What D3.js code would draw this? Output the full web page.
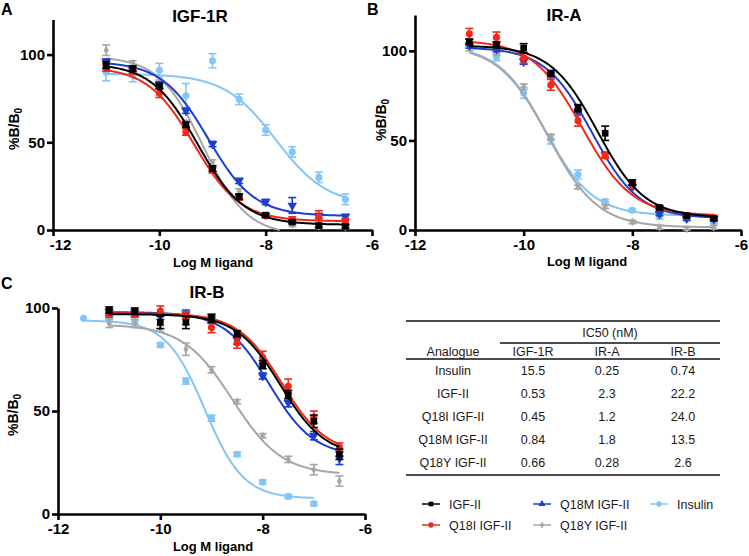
<!DOCTYPE html>
<html><head><meta charset="utf-8">
<script src="https://cdn.jsdelivr.net/npm/d3@7"></script>
<style>
body{margin:0;background:#fff}
svg{display:block;font-family:"Liberation Sans",Arial,sans-serif}
</style>
</head><body>
<svg id="chart" width="749" height="556"></svg>
<script>
// ---------------- DATA ----------------
const seriesNames = ["IGF-II", "Q18I IGF-II", "Q18M IGF-II", "Q18Y IGF-II", "Insulin"];
const seriesColors = ["#000000", "#ee2a1b", "#1d3fcf", "#a6a6a6", "#85c5f5"];
const xTicks = [-12, -10, -8, -6];
const yTicks = [0, 50, 100];

// log M concentrations
const xAB = [-11, -10.5, -10, -9.5, -9, -8.5, -8, -7.5, -7, -6.5];
const xC = [-11.5, -11, -10.5, -10, -9.5, -9, -8.5, -8, -7.5, -7, -6.5];

// Panel A: IGF-1R (%B/B0 mean, SEM)
const igf1rIGFII = [94, 92, 82, 60, 35, 19, 8.5, 4.5, 2.5, 2];
const igf1rQ18I = [92.5, 90.5, 78, 56, 34, 18.5, 8, 6, 7.5, 5];
const igf1rQ18M = [96, 91, 83, 68, 49, 28, 16, 14, 8, 7.5];
const igf1rQ18Y = [102.5, 95, 84, 61, 38.5, 22, 8, 3, 2, 1.5];
const igf1rInsulin = [90, 88.5, 91, 76.5, 96.5, 74.5, 57, 44.5, 30, 17.5];
const igf1rErrIGFII = [2, 1.5, 1.5, 1.5, 1.5, 1.5, 1, 1, 1, 1];
const igf1rErrQ18I = [2, 1.5, 2.5, 2, 1.5, 1.5, 1, 1.5, 3.5, 1.5];
const igf1rErrQ18M = [1.5, 1.5, 1.5, 1.5, 1.5, 1.5, 1.5, 4.5, 1.5, 1.5];
const igf1rErrQ18Y = [3, 1.5, 1.5, 1.5, 1.5, 1.5, 1, 1, 1, 1];
const igf1rErrInsulin = [5, 4, 4, 7, 4, 3, 3, 3, 3, 3];
// fit parameters [top, bottom, logIC50, hill]
const igf1rFits = [[95, 3, -9.28, 1.0], [93, 5, -9.35, 1.0], [96, 8, -9.08, 1.0], [99, -3, -9.18, 1.05], [89, 14, -7.81, 0.9]];

// Panel B: IR-A
const iraIGFII = [105, 103.5, 101.5, 87.5, 68, 54, 26.5, 12.5, 8, 6.5];
const iraQ18I = [109.5, 107.5, 96, 81, 61, 41.5, 25, 12.5, 8, 7];
const iraQ18M = [103, 101, 94, 86.5, 66, 42, 24, 9, 6.5, 6];
const iraQ18Y = [102, 99, 80, 52, 24, 13, 4.5, 1.5, 0.5, 1.5];
const iraInsulin = [104.5, 96.5, 76.5, 50.5, 31, 16, 11, 8, 6, 4.5];
const iraErrIGFII = [1.5, 1.5, 2.5, 1.5, 2, 4, 1.5, 1, 1, 1];
const iraErrQ18I = [3, 3, 3, 3, 3, 1.5, 1.5, 1, 1, 1];
const iraErrQ18M = [1.5, 1.5, 1.5, 1.5, 1.5, 1.5, 1, 1, 1, 1];
const iraErrQ18Y = [2, 1.5, 1.5, 1.5, 1, 1, 1, 1, 1, 1];
const iraErrInsulin = [2, 2, 3, 2.5, 2.5, 1, 1, 2, 1, 1];
const iraFits = [[103, 7, -8.64, 1.0], [106, 8, -8.92, 0.95], [102, 6.5, -8.74, 1.0], [103, 1.5, -9.55, 0.95], [103, 8, -9.6, 1.0]];

// Panel C: IR-B
const irbIGFII = [null, 99, 98.5, 93, 93, 95, 87.5, 72.5, 58, 45, 29];
const irbQ18I = [null, 97, 97, 98.5, 95, 90.5, 83, 76, 62, 47, 32.5];
const irbQ18M = [null, 98, 97.5, 96, 97, 94.5, 84.5, 67, 54, 38, 27];
const irbQ18Y = [null, 92.5, 92.5, 90, 80, 70, 54.5, 38, 26.5, 21.5, 16];
const irbInsulin = [95, 94.5, 93, 82, 64.5, 46.5, 29, 15.5, 8.5, 5, null];
const irbErrIGFII = [0, 1.5, 1.5, 3, 3, 2, 1.5, 2, 2, 3, 2.5];
const irbErrQ18I = [0, 1.5, 1.5, 2.5, 3, 2.5, 2.5, 3, 3.5, 3, 2];
const irbErrQ18M = [0, 1.5, 1.5, 1.5, 2, 2, 2, 1.5, 2, 2, 3];
const irbErrQ18Y = [0, 2, 2, 1.5, 3, 1.5, 1, 1, 1.5, 2.5, 2.5];
const irbErrInsulin = [0, 1, 1, 1, 1.5, 1.5, 1, 1, 1, 1, 0];
const irbFits = [[97, 28, -7.65, 1.0], [97.5, 29, -7.62, 1.0], [98, 28, -7.87, 1.0], [92, 19, -8.59, 0.9], [94, 7.5, -9.13, 1.15]];

// IC50 table
const tableColumns = ["Analogue", "IGF-1R", "IR-A", "IR-B"];
const tableRows = ["Insulin", "IGF-II", "Q18I IGF-II", "Q18M IGF-II", "Q18Y IGF-II"];
const ic50IGF1R = ["15.5", "0.53", "0.45", "0.84", "0.66"];
const ic50IRA = ["0.25", "2.3", "1.2", "1.8", "0.28"];
const ic50IRB = ["0.74", "22.2", "24.0", "13.5", "2.6"];

// ---------------- DRAW ----------------
const svg = d3.select("#chart");
const symbolFor = [d3.symbolSquare, d3.symbolCircle, d3.symbolTriangle, d3.symbolDiamond, d3.symbolCircle];
const symbolSize = [44, 40, 40, 22, 40];

function logistic(p, x) { return p[1] + (p[0] - p[1]) / (1 + Math.pow(10, (x - p[2]) * p[3])); }

function drawPanel(cfg) {
  const g = svg.append("g");
  const x = d3.scaleLinear().domain([-12, -6]).range(cfg.xRange);
  const y = d3.scaleLinear().domain(cfg.yDomain).range(cfg.yRange);

  const yAxis = g.append("g").attr("transform", `translate(${cfg.xRange[0]},0)`)
    .call(d3.axisLeft(y).tickValues(yTicks).tickSize(6).tickSizeOuter(0).tickPadding(2).tickFormat(d => String(d)));
  const xAxis = g.append("g").attr("transform", `translate(0,${cfg.yRange[0]})`)
    .call(d3.axisBottom(x).tickValues(xTicks).tickSize(6).tickSizeOuter(0).tickPadding(3).tickFormat(d => String(d)));
  [xAxis, yAxis].forEach(a => {
    a.selectAll("path,line").attr("stroke", "#000").attr("stroke-width", 2.6);
    a.selectAll("text").attr("fill", "#000").attr("font-size", 15).attr("font-weight", "bold")
      .attr("font-family", "'Liberation Sans',Arial,sans-serif");
  });
  if (cfg.firstTickShift) {
    xAxis.selectAll(".tick").filter(d => d === -12).select("text").attr("dx", cfg.firstTickShift);
  }

  const line = d3.line().x(d => x(d[0])).y(d => y(d[1])).defined(d => d[1] >= 0).curve(d3.curveLinear);
  const order = [4, 3, 2, 1, 0];
  order.forEach(i => {
    const color = seriesColors[i];
    const p = cfg.fits[i];
    const dom = cfg.curveDomain[i];
    const pts = d3.range(0, 201).map(k => { const xv = dom[0] + (dom[1] - dom[0]) * k / 200; return [xv, logistic(p, xv)]; });
    g.append("path").attr("d", line(pts)).attr("fill", "none").attr("stroke", color).attr("stroke-width", 2);

    const data = cfg.xs.map((xv, j) => ({ x: xv, v: cfg.vals[i][j], e: cfg.errs[i][j] })).filter(d => d.v !== null);
    const eb = g.append("g").attr("stroke", color).attr("stroke-width", 1.6);
    data.forEach(d => {
      if (d.e > 0) {
        const cx = x(d.x), y1 = y(Math.max(0, d.v - d.e)), y2 = y(d.v + d.e);
        eb.append("line").attr("x1", cx).attr("x2", cx).attr("y1", y1).attr("y2", y2);
        eb.append("line").attr("x1", cx - 4).attr("x2", cx + 4).attr("y1", y1).attr("y2", y1);
        eb.append("line").attr("x1", cx - 4).attr("x2", cx + 4).attr("y1", y2).attr("y2", y2);
      }
    });
    g.append("g").selectAll("path").data(data).join("path")
      .attr("d", d3.symbol().type(symbolFor[i]).size(symbolSize[i]))
      .attr("transform", d => `translate(${x(d.x)},${y(d.v)})` + (i === 2 ? " rotate(180)" : ""))
      .attr("fill", color);
  });

  // titles and labels
  g.append("text").attr("x", cfg.titlePos[0]).attr("y", cfg.titlePos[1]).attr("text-anchor", "middle")
    .attr("font-size", 17).attr("font-weight", "bold").text(cfg.title);
  g.append("text").attr("x", cfg.letterPos[0]).attr("y", cfg.letterPos[1])
    .attr("font-size", 16).attr("font-weight", "bold").text(cfg.letter);
  g.append("text").attr("x", cfg.xLabelPos[0]).attr("y", cfg.xLabelPos[1]).attr("text-anchor", "middle")
    .attr("font-size", 13).attr("font-weight", "bold").text("Log M ligand");
  const yl = g.append("text").attr("transform", `translate(${cfg.yLabelPos[0]},${cfg.yLabelPos[1]}) rotate(-90)`)
    .attr("text-anchor", "middle").attr("font-size", 14).attr("font-weight", "bold");
  yl.append("tspan").text("%B/B");
  yl.append("tspan").attr("font-size", 10).attr("dy", 3).text("0");
}

const fullDom = [[-11, -6.5], [-11, -6.5], [-11, -6.5], [-11, -6.5], [-11, -6.5]];
drawPanel({
  xRange: [53, 372], yRange: [230, 19.5], yDomain: [0, 120], xs: xAB,
  vals: [igf1rIGFII, igf1rQ18I, igf1rQ18M, igf1rQ18Y, igf1rInsulin],
  errs: [igf1rErrIGFII, igf1rErrQ18I, igf1rErrQ18M, igf1rErrQ18Y, igf1rErrInsulin],
  fits: igf1rFits, curveDomain: fullDom, firstTickShift: 7,
  title: "IGF-1R", titlePos: [200, 22], letter: "A", letterPos: [1, 15],
  xLabelPos: [213, 267], yLabelPos: [19, 129]
});
drawPanel({
  xRange: [415, 741], yRange: [230, 15], yDomain: [0, 120], xs: xAB,
  vals: [iraIGFII, iraQ18I, iraQ18M, iraQ18Y, iraInsulin],
  errs: [iraErrIGFII, iraErrQ18I, iraErrQ18M, iraErrQ18Y, iraErrInsulin],
  fits: iraFits, curveDomain: fullDom,
  title: "IR-A", titlePos: [564, 21], letter: "B", letterPos: [367, 15],
  xLabelPos: [587, 266], yLabelPos: [386, 120]
});
drawPanel({
  xRange: [58, 365], yRange: [514, 308], yDomain: [0, 100], xs: xC,
  vals: [irbIGFII, irbQ18I, irbQ18M, irbQ18Y, irbInsulin],
  errs: [irbErrIGFII, irbErrQ18I, irbErrQ18M, irbErrQ18Y, irbErrInsulin],
  fits: irbFits, curveDomain: [[-11, -6.5], [-11, -6.5], [-11, -6.5], [-11, -6.5], [-11.5, -7]],
  title: "IR-B", titlePos: [207, 298], letter: "C", letterPos: [1, 289],
  xLabelPos: [213, 551], yLabelPos: [18, 415]
});

// ---------------- TABLE ----------------
const tb = svg.append("g").attr("font-size", 12.5).attr("fill", "#1a1a1a");
const colX = [453, 533, 607, 683];
const rowY = [375, 398, 421, 444, 467];
const rule = (x1, x2, yy) => tb.append("line").attr("x1", x1).attr("x2", x2).attr("y1", yy).attr("y2", yy)
  .attr("stroke", "#111").attr("stroke-width", 1.3);
rule(406, 720, 321);
tb.append("text").attr("x", 610).attr("y", 337).attr("text-anchor", "middle").text("IC50 (nM)");
rule(500, 720, 343);
tableColumns.forEach((c, i) => tb.append("text").attr("x", colX[i]).attr("y", 356).attr("text-anchor", "middle").text(c));
rule(406, 720, 359);
const cols = [tableRows, ic50IGF1R, ic50IRA, ic50IRB];
cols.forEach((col, ci) => col.forEach((t, ri) =>
  tb.append("text").attr("x", colX[ci]).attr("y", rowY[ri]).attr("text-anchor", "middle").text(t)));
rule(406, 720, 475);

// ---------------- LEGEND ----------------
const legendPos = [[422, 504], [422, 525], [533, 504], [533, 525], [650, 504]];
const lg = svg.append("g");
seriesNames.forEach((name, i) => {
  const [lx, ly] = legendPos[i];
  lg.append("line").attr("x1", lx).attr("x2", lx + 18).attr("y1", ly).attr("y2", ly)
    .attr("stroke", seriesColors[i]).attr("stroke-width", 1.5);
  lg.append("path").attr("d", d3.symbol().type(symbolFor[i]).size(i === 3 ? 14 : 22)())
    .attr("transform", `translate(${lx + 9},${ly})`).attr("fill", seriesColors[i]);
  lg.append("text").attr("x", lx + 27).attr("y", ly + 4.5).attr("font-size", 12.5)
    .attr("fill", "#1a1a1a").text(name);
});
</script>
</body></html>
